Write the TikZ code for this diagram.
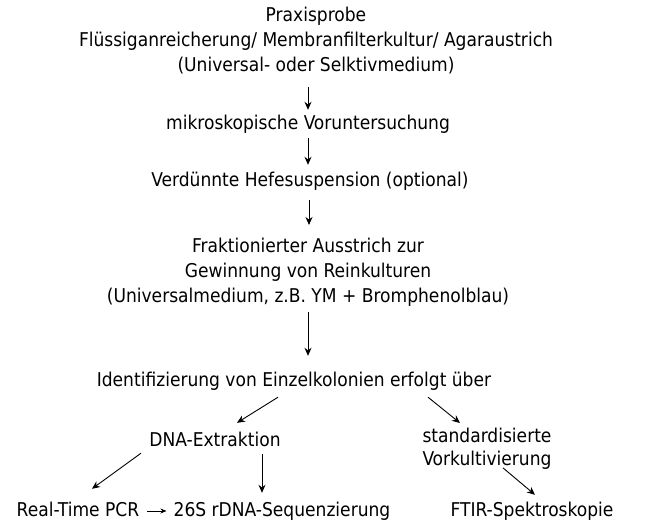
\documentclass[tikz,border=0pt]{standalone}
\usepackage{fontspec}
\setmainfont{DejaVu Sans Condensed}
\usetikzlibrary{arrows.meta,calc}
\begin{document}
\begin{tikzpicture}[x=1pt,y=-1pt,
  blk/.style={inner sep=0pt,align=center,font=\fontsize{19pt}{25pt}\selectfont},
  txt/.style={blk,text height=14pt,text depth=4pt},
  arr/.style={line width=0.9pt,-{Stealth[length=8pt,width=7pt]}},
  sarr/.style={line width=0.9pt,-{Stealth[length=6pt,width=5pt]}}]
\useasboundingbox (0,0) rectangle (659,526);
\node[blk] (prax) at (316,41) {Praxisprobe\\Flüssiganreicherung/ Membranfilterkultur/ Agaraustrich\\(Universal- oder Selktivmedium)};
\node[txt] (mikro) at (308,125) {mikroskopische Voruntersuchung};
\node[txt] (verd) at (310,182) {Verdünnte Hefesuspension (optional)};
\node[blk] (frak) at (308,272) {Fraktionierter Ausstrich zur\\Gewinnung von Reinkulturen\\(Universalmedium, z.B. YM + Bromphenolblau)};
\node[txt] (ident) at (294,382) {Identifizierung von Einzelkolonien erfolgt über};
\node[txt] (dna) at (215,442) {DNA-Extraktion};
\node[blk,font=\fontsize{19pt}{23pt}\selectfont] (std) at (487,448.5) {standardisierte\\Vorkultivierung};
\node[txt] (rt) at (78,511) {Real-Time PCR};
\node[txt] (seq) at (282,511) {26S rDNA-Sequenzierung};
\node[txt] (ftir) at (532,511) {FTIR-Spektroskopie};
\draw[arr] ($(prax.south)+(-8,12.5)$) -- ($(mikro.north)+(0,-6)$);
\draw[arr] ($(mikro.south)+(0,4)$) -- ($(verd.north)+(-2,-8)$);
\draw[arr] ($(verd.south)+(-1,9)$) -- ($(frak.north)+(1,-12.6)$);
\draw[arr] ($(frak.south)+(0,5.5)$) -- ($(ident.north)+(14,-17)$);
\draw[arr] ($(ident.south)+(-16,6)$) -- ($(dna.north)+(22,-10)$);
\draw[arr] ($(ident.south)+(134,6)$) -- ($(std.north)+(-27,-4.6)$);
\draw[arr] ($(dna.south)+(-74,2)$) -- ($(rt.north)+(14,-13)$);
\draw[arr] ($(dna.south)+(47,3)$) -- ($(seq.north)+(-20,-9)$);
\draw[sarr] ($(rt.east)+(8,0)$) -- ($(seq.west)+(-7,0)$);
\draw[arr] ($(std.south)+(16,-1.5)$) -- ($(ftir.north)+(3,-7)$);
\end{tikzpicture}
\end{document}
